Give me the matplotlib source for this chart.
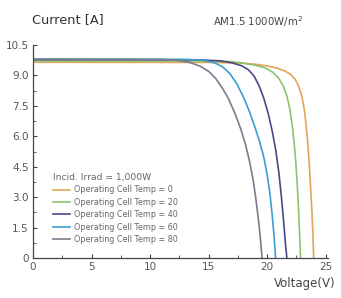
import matplotlib.pyplot as plt
from matplotlib.ticker import MultipleLocator

# I-V curves, one per operating cell temperature
temps = [0, 20, 40, 60, 80]
colors = ['#e3a55a', '#8dc36e', '#4b4787', '#3a9fcf', '#7b7b8e']

v_0 = [0, 15, 17, 18, 19, 20, 20.8, 21.5, 22.0, 22.4, 22.7, 22.95, 23.15, 23.3,
       23.45, 23.6, 23.72, 23.83, 23.92, 23.97]
i_0 = [9.65, 9.64, 9.62, 9.6, 9.55, 9.47, 9.37, 9.22, 9.05, 8.8, 8.45, 8.0, 7.4, 6.7,
       5.8, 4.6, 3.4, 2.2, 1.0, 0]

v_20 = [0, 15, 17, 18, 19, 19.8, 20.5, 21.0, 21.4, 21.7, 21.95, 22.15, 22.3, 22.45,
        22.57, 22.68, 22.77, 22.85]
i_20 = [9.72, 9.71, 9.68, 9.6, 9.5, 9.38, 9.15, 8.85, 8.45, 7.95, 7.3, 6.5, 5.7, 4.7,
        3.6, 2.4, 1.2, 0]

v_40 = [0, 14, 16, 17, 17.8, 18.4, 18.9, 19.3, 19.7, 20.1, 20.45, 20.75, 21.0,
        21.22, 21.42, 21.57, 21.68]
i_40 = [9.78, 9.77, 9.72, 9.62, 9.48, 9.28, 8.95, 8.5, 7.9, 7.1, 6.2, 5.25, 4.2,
        3.0, 1.7, 0.65, 0]

v_60 = [0, 13, 14.5, 15.5, 16.2, 16.8, 17.4, 18.0, 18.5, 18.95, 19.35, 19.7, 20.0,
        20.25, 20.45, 20.6, 20.72]
i_60 = [9.8, 9.79, 9.75, 9.62, 9.42, 9.1, 8.6, 7.9, 7.2, 6.45, 5.75, 5.0, 4.1,
        3.1, 2.0, 1.0, 0]

v_80 = [0, 11, 12.5, 13.5, 14.3, 15.0, 15.6, 16.2, 16.7, 17.3, 17.75, 18.15, 18.5,
        18.8, 19.05, 19.27, 19.43, 19.56]
i_80 = [9.8, 9.79, 9.74, 9.62, 9.45, 9.2, 8.85, 8.35, 7.85, 7.05, 6.35, 5.6, 4.75,
        3.85, 2.85, 1.8, 0.9, 0]

volts = [v_0, v_20, v_40, v_60, v_80]
amps = [i_0, i_20, i_40, i_60, i_80]

x_ticks = [0, 5, 10, 15, 20, 25]
y_ticks = [0, 1.5, 3.0, 4.5, 6.0, 7.5, 9.0, 10.5]
y_labels = ['0', '1.5', '3.0', '4.5', '6.0', '7.5', '9.0', '10.5']

fig = plt.figure(figsize=(3.41, 2.98), dpi=100)
ax = fig.add_axes([0.097, 0.134, 0.865, 0.715])

for t, v, i, c in zip(temps, volts, amps, colors):
    ax.plot(v, i, color=c, lw=1.2, label=f'Operating Cell Temp = {t}')

ax.set_xlim(0, 25.2)
ax.set_ylim(0, 10.5)
ax.set_xticks(x_ticks)
ax.set_yticks(y_ticks)
ax.set_yticklabels(y_labels)
ax.xaxis.set_minor_locator(MultipleLocator(2.5))
ax.yaxis.set_minor_locator(MultipleLocator(0.75))

for s in ['top', 'right']:
    ax.spines[s].set_visible(False)
for s in ['left', 'bottom']:
    ax.spines[s].set_color('#444444')
    ax.spines[s].set_linewidth(0.9)

ax.tick_params(which='both', direction='in', color='#444444', labelcolor='#555555', labelsize=7.5)
ax.tick_params(which='major', length=3, pad=3)
ax.tick_params(which='minor', length=2)

leg = ax.legend(loc='lower left', bbox_to_anchor=(0.05, 0.04), frameon=False,
                fontsize=5.8, title='Incid. Irrad = 1,000W', title_fontsize=6.6,
                handlelength=2.0, handletextpad=0.6, labelspacing=0.42, borderpad=0.2)
leg._legend_box.align = 'left'
for txt in leg.get_texts():
    txt.set_color('#666666')
leg.get_title().set_color('#666666')

fig.text(0.094, 0.933, 'Current [A]', fontsize=9.3, color='#333333', va='center')
fig.text(0.625, 0.927, 'AM1.5 1000W/m$^2$', fontsize=7.3, color='#444444', va='center')
fig.text(0.985, 0.05, 'Voltage(V)', fontsize=8.5, color='#444444', ha='right', va='center')

fig.savefig('out.png', dpi=100)
